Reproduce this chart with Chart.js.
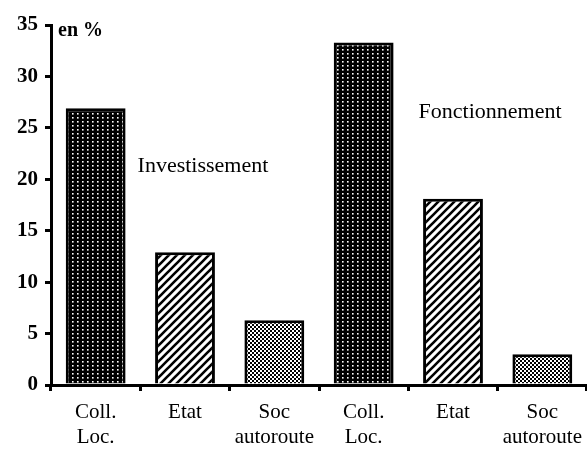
<!DOCTYPE html>
<html>
<head>
<meta charset="utf-8">
<script src="https://cdn.jsdelivr.net/npm/chart.js@4/dist/chart.umd.min.js"></script>
<style>
  html, body { margin: 0; padding: 0; background: #fff; }
  #wrap { width: 587px; height: 449px; }
</style>
</head>
<body>
<div id="wrap"><canvas id="myChart" width="587" height="449"></canvas></div>
<script>
// data (en %)
var categories = [['Coll.', 'Loc.'], ['Etat'], ['Soc', 'autoroute'], ['Coll.', 'Loc.'], ['Etat'], ['Soc', 'autoroute']];
var values = [26.9, 12.9, 6.3, 33.3, 18.1, 3.0];
var yTicks = [0, 5, 10, 15, 20, 25, 30, 35];
var groupLabels = ['Investissement', 'Fonctionnement'];

var FONT = '"Liberation Serif", "Times New Roman", serif';

// fill patterns
function dots() {
  var c = document.createElement('canvas');
  c.width = 5; c.height = 4;
  var g = c.getContext('2d');
  g.fillStyle = '#000'; g.fillRect(0, 0, 5, 4);
  g.fillStyle = '#fff'; g.fillRect(2, 1, 1.6, 1.6);
  return g.createPattern(c, 'repeat');
}
function hatch() {
  var c = document.createElement('canvas');
  c.width = 8; c.height = 8;
  var g = c.getContext('2d');
  g.fillStyle = '#fff'; g.fillRect(0, 0, 8, 8);
  g.strokeStyle = '#000'; g.lineWidth = 2.6;
  g.beginPath();
  g.moveTo(-2, 10); g.lineTo(10, -2);
  g.moveTo(-6, 6); g.lineTo(6, -6);
  g.moveTo(2, 14); g.lineTo(14, 2);
  g.stroke();
  return g.createPattern(c, 'repeat');
}
function checker() {
  var c = document.createElement('canvas');
  c.width = 4; c.height = 4;
  var g = c.getContext('2d');
  g.fillStyle = '#fff'; g.fillRect(0, 0, 4, 4);
  g.fillStyle = '#000'; g.fillRect(0, 0, 2, 2); g.fillRect(2, 2, 2, 2);
  return g.createPattern(c, 'repeat');
}

document.addEventListener('DOMContentLoaded', function () {
  var ctx = document.getElementById('myChart').getContext('2d');
  var pDots = dots(), pHatch = hatch(), pCheck = checker();
  var fills = [pDots, pHatch, pCheck, pDots, pHatch, pCheck];

  var textPlugin = {
    id: 'texts',
    afterDraw: function (chart) {
      var c = chart.ctx, x = chart.scales.x, y = chart.scales.y;
      var bars = chart.getDatasetMeta(0).data;
      c.save();
      c.fillStyle = '#000';
      c.textBaseline = 'middle';
      c.textAlign = 'left';
      c.font = 'bold 20px ' + FONT;
      c.fillText('en %', x.left + 7, y.getPixelForValue(34.4));
      c.font = '22px ' + FONT;
      c.fillText(groupLabels[0], bars[0].x + bars[0].width / 2 + 12, y.getPixelForValue(21.3));
      c.fillText(groupLabels[1], bars[3].x + bars[3].width / 2 + 25, y.getPixelForValue(26.5));
      c.restore();
    }
  };

  new Chart(ctx, {
    type: 'bar',
    data: {
      labels: categories,
      datasets: [{
        data: values,
        backgroundColor: fills,
        borderColor: '#000',
        borderWidth: 3,
        borderSkipped: 'bottom',
        categoryPercentage: 1,
        barPercentage: 0.67
      }]
    },
    options: {
      responsive: false,
      animation: false,
      events: [],
      layout: { padding: { top: 25, right: 0, left: 0, bottom: 0 } },
      plugins: { legend: { display: false }, tooltip: { enabled: false } },
      scales: {
        y: {
          min: 0,
          max: 35,
          afterBuildTicks: function (s) { s.ticks = yTicks.map(function (v) { return { value: v }; }); },
          afterFit: function (s) { s.width = 51; s.paddingTop = 0; s.paddingBottom = 0; },
          border: { display: true, color: '#000', width: 3 },
          grid: { drawOnChartArea: false, color: '#000', lineWidth: 3, tickLength: 6 },
          ticks: { color: '#000', padding: 7, font: { family: FONT, size: 21, weight: 'bold' } }
        },
        x: {
          afterFit: function (s) { s.height = 64; s.paddingLeft = 0; s.paddingRight = 0; },
          border: { display: true, color: '#000', width: 3 },
          grid: { drawOnChartArea: false, color: '#000', lineWidth: 3, tickLength: 6, offset: true },
          ticks: { color: '#000', padding: 9, maxRotation: 0, autoSkip: false, font: { family: FONT, size: 21, lineHeight: 1.2 } }
        }
      }
    },
    plugins: [textPlugin]
  });
});
</script>
</body>
</html>
